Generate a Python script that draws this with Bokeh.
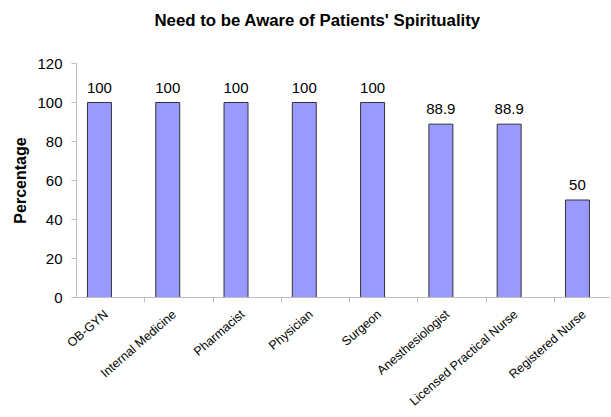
import numpy as np
from math import radians
from bokeh.plotting import figure
from bokeh.models import ColumnDataSource, Range1d, FixedTicker, LabelSet, Title
from bokeh.core.properties import value
from bokeh.embed import file_html
from bokeh.resources import INLINE

# ---- data ----
categories = ["OB-GYN", "Internal Medicine", "Pharmacist", "Physician", "Surgeon",
              "Anesthesiologist", "Licensed Practical Nurse", "Registered Nurse"]
values = [100, 100, 100, 100, 100, 88.9, 88.9, 50]
value_labels = ["100", "100", "100", "100", "100", "88.9", "88.9", "50"]
y_ticks = [0, 20, 40, 60, 80, 100, 120]
title_text = "Need to be Aware of Patients' Spirituality"
y_title = "Percentage"

FONT = "Liberation Sans"
AXIS_GRAY = "#bfbfbf"

idx = np.arange(len(categories))
BAR_POS = 0.336          # bar centre inside each category slot
BAR_W = 0.351
LABEL_SHIFT = 0.10       # label anchor slightly right of bar centre
src = ColumnDataSource(dict(x=idx + BAR_POS, top=values, lbl=value_labels))

p = figure(width=610, height=416, output_backend="svg", toolbar_location=None,
           x_range=Range1d(0, 7.82), y_range=Range1d(0, 120),
           min_border_left=76, min_border_right=0, min_border_top=63, min_border_bottom=118)

# spacer between the frame and the title (keeps the title near the top edge)
p.add_layout(Title(text=" ", text_font_size="1px", standoff=31), "above")

p.title.text = title_text
p.title.align = "left"
p.title.offset = 78
p.title.standoff = 0
p.title.vertical_align = "bottom"
p.title.text_font = FONT
p.title.text_font_size = "16.8px"
p.title.text_font_style = "bold"
p.title.text_color = "black"

p.outline_line_color = None
p.xgrid.visible = False
p.ygrid.visible = False

p.vbar(x="x", top="top", bottom=0, width=BAR_W, source=src,
       fill_color="#9999ff", line_color="#333333", line_width=1)

# y axis
p.yaxis.ticker = FixedTicker(ticks=y_ticks)
p.yaxis.axis_label = y_title
p.yaxis.axis_label_text_font = FONT
p.yaxis.axis_label_text_font_style = "bold"
p.yaxis.axis_label_text_font_size = "16px"
p.yaxis.axis_label_text_color = "black"
p.yaxis.axis_label_standoff = 5
p.yaxis.major_label_text_font = FONT
p.yaxis.major_label_text_font_size = "15px"
p.yaxis.major_label_text_color = "black"
p.yaxis.major_label_standoff = 9
p.yaxis.major_tick_out = 5
p.yaxis.major_tick_in = 0
p.yaxis.minor_tick_line_color = None
p.yaxis.axis_line_color = AXIS_GRAY
p.yaxis.major_tick_line_color = AXIS_GRAY

# x axis: labels at bar centres (rotated), tick marks at category boundaries
label_pos = [float(i + BAR_POS + LABEL_SHIFT) for i in idx]
bounds = [float(b) for b in range(1, len(categories))]
p.xaxis.ticker = FixedTicker(ticks=label_pos, minor_ticks=bounds)
p.xaxis.major_label_overrides = {pos: c for pos, c in zip(label_pos, categories)}
p.xaxis.major_label_orientation = radians(41)
p.xaxis.major_label_text_font = FONT
p.xaxis.major_label_text_font_size = "12.5px"
p.xaxis.major_label_text_color = "black"
p.xaxis.major_label_standoff = 10
p.xaxis.major_tick_line_color = None
p.xaxis.major_tick_out = 5
p.xaxis.minor_tick_out = 5
p.xaxis.minor_tick_in = 0
p.xaxis.minor_tick_line_color = AXIS_GRAY
p.xaxis.axis_line_color = AXIS_GRAY

value_set = LabelSet(x="x", y="top", text="lbl", source=src, text_align="center",
                     text_baseline="alphabetic", y_offset=10, text_font=value(FONT),
                     text_font_size=value("15px"), text_color="black")
p.add_layout(value_set)

open("out.html", "w").write(file_html(p, INLINE))
